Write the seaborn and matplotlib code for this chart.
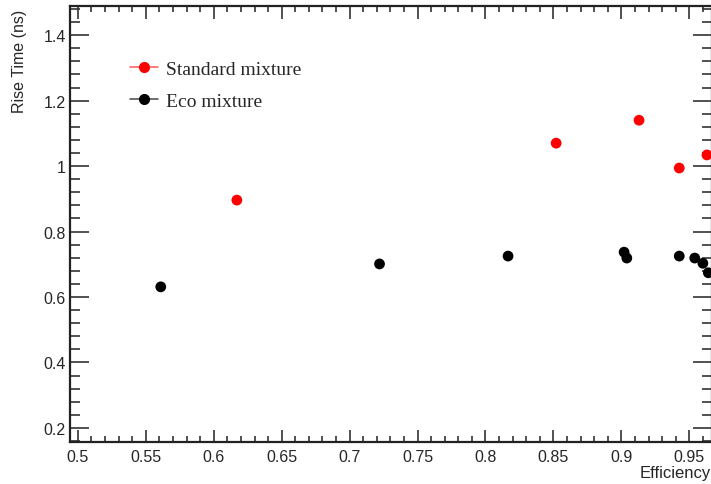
import matplotlib
matplotlib.use("Agg")
import matplotlib.pyplot as plt
import seaborn as sns
import pandas as pd
from matplotlib.ticker import MultipleLocator
from matplotlib.lines import Line2D

std_eff = [0.617, 0.852, 0.913, 0.9426, 0.963]
std_rise = [0.896, 1.070, 1.140, 0.994, 1.034]
eco_eff = [0.561, 0.722, 0.8166, 0.902, 0.904, 0.9426, 0.954, 0.960, 0.964]
eco_rise = [0.631, 0.701, 0.725, 0.737, 0.719, 0.725, 0.719, 0.703, 0.674]

df = pd.concat([
    pd.DataFrame({"eff": std_eff, "rise": std_rise, "mix": "Standard mixture"}),
    pd.DataFrame({"eff": eco_eff, "rise": eco_rise, "mix": "Eco mixture"}),
])

sns.set_style("ticks")
plt.rcParams["font.family"] = ["Liberation Sans", "DejaVu Sans"]

fig = plt.figure(figsize=(7.11, 4.85), dpi=100)
ax = fig.add_axes([70 / 711, 42 / 485, 642 / 711, 436 / 485])

sns.scatterplot(data=df, x="eff", y="rise", hue="mix",
                palette={"Standard mixture": "#ff0000", "Eco mixture": "#000000"},
                s=60, edgecolor="none", legend=False, ax=ax, zorder=3)

ax.set_xlim(0.4942, 0.9667)
ax.set_ylim(0.157, 1.489)
ax.xaxis.set_major_locator(MultipleLocator(0.05))
ax.xaxis.set_minor_locator(MultipleLocator(0.01))
ax.yaxis.set_major_locator(MultipleLocator(0.2))
ax.yaxis.set_minor_locator(MultipleLocator(0.04))
ax.set_xticks([0.5, 0.55, 0.6, 0.65, 0.7, 0.75, 0.8, 0.85, 0.9, 0.95])
ax.set_xticklabels(["0.5", "0.55", "0.6", "0.65", "0.7", "0.75", "0.8", "0.85", "0.9", "0.95"])
ax.set_yticks([0.2, 0.4, 0.6, 0.8, 1.0, 1.2, 1.4])
ax.set_yticklabels(["0.2", "0.4", "0.6", "0.8", "1", "1.2", "1.4"])

for sp in ax.spines.values():
    sp.set_visible(True)
    sp.set_linewidth(1.6)
    sp.set_color("#222222")

ax.tick_params(axis="x", which="major", direction="in", length=9, width=1.2,
               top=True, bottom=True, labelsize=11.5, pad=5, color="#333333")
ax.tick_params(axis="x", which="minor", direction="in", length=4.5, width=1.2,
               top=True, bottom=True, color="#333333")
ax.tick_params(axis="y", which="major", direction="in", length=14, width=1.2,
               left=True, right=True, labelsize=11.5, pad=3, color="#333333")
ax.tick_params(axis="y", which="minor", direction="in", length=7, width=1.2,
               left=True, right=True, color="#333333")
ax.grid(False)

ax.set_xlabel("")
ax.set_ylabel("")
fig.text(1.0, 4 / 485, "Efficiency", ha="right", va="bottom", fontsize=12)
fig.text(0.017, 0.98, "Rise Time (ns)", ha="left", va="top", rotation=90, fontsize=11.5)

handles = [
    Line2D([0], [0], color="#ff6666", marker="o", markersize=7, markerfacecolor="#ff0000",
           markeredgecolor="#ff0000", lw=1.2, label="Standard mixture"),
    Line2D([0], [0], color="#555555", marker="o", markersize=7, markerfacecolor="#000000",
           markeredgecolor="#000000", lw=1.2, label="Eco mixture"),
]
leg = fig.legend(handles=handles, loc="upper left", bbox_to_anchor=(130 / 711, 1 - 61 / 485),
                 bbox_transform=fig.transFigure, borderaxespad=0, borderpad=0,
                 frameon=False, prop={"family": "Liberation Serif", "size": 14},
                 handlelength=1.45, handletextpad=0.4, labelspacing=0.75)

fig.savefig("out.png", dpi=100)
